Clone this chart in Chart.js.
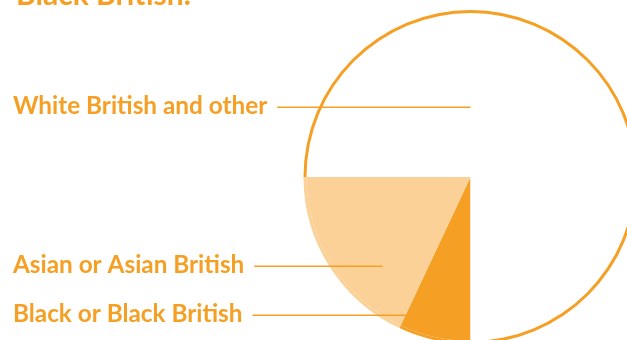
<!DOCTYPE html>
<html>
<head>
<meta charset="utf-8">
<script src="https://cdn.jsdelivr.net/npm/chart.js@4.4.1/dist/chart.umd.min.js"></script>
<style>
  html, body { margin: 0; padding: 0; overflow: hidden; background: #fff; }
  #wrap { position: relative; width: 700px; height: 400px; }
</style>
</head>
<body>
<div id="wrap"><canvas id="ethnicity-chart"></canvas></div>
<script>
// ---------------------- DATA -------------------------
const groups = ['Black or Black British', 'Asian or Asian British', 'White British and other'];
const shares = [7, 18, 75];
const headingText = 'Black British.';

// ---------------------- STYLE -------------------------
const ORANGE = '#f5a024';
const LIGHT = '#fbd198';
const sliceColors = [ORANGE, LIGHT, '#ffffff'];
const rimColors = [ORANGE, LIGHT, ORANGE];   // only the white slice shows an outline

// where each leader line stops: how far along the slice (0..1) and how deep (share of radius)
const anchors = [
      { along: 0.5, depth: 0.845 },
      { along: 0.30, depth: 0.75 },
      { along: 1 / 3, depth: 0.42 }
];

const LABEL_X = 13;
const LABEL_FONT = 'bold 24.3px Lato';

// draws the category names on the left with a horizontal line into each slice
const calloutLabels = {
      id: 'calloutLabels',
      afterDraw(chart) {
            const ctx = chart.ctx;
            const slices = chart.getDatasetMeta(1).data;
            const rim = chart.getDatasetMeta(0).data;

            ctx.save();
            ctx.fillStyle = ORANGE;
            ctx.strokeStyle = ORANGE;
            ctx.lineWidth = 1.5;
            ctx.font = LABEL_FONT;
            ctx.textBaseline = 'alphabetic';

            slices.forEach((arc, i) => {
                  const a = arc.startAngle + (arc.endAngle - arc.startAngle) * anchors[i].along;
                  const r = rim[i].outerRadius * anchors[i].depth;
                  const ax = arc.x + Math.cos(a) * r;
                  const ay = Math.round(arc.y + Math.sin(a) * r) + 0.25;
                  const tw = ctx.measureText(groups[i]).width;

                  ctx.fillText(groups[i], LABEL_X, ay + 7);
                  ctx.beginPath();
                  ctx.moveTo(LABEL_X + tw + 10, ay);
                  ctx.lineTo(ax, ay);
                  ctx.stroke();
            });

            // last line of the heading, mostly above the frame
            ctx.font = 'bold 30px Lato';
            ctx.fillText(headingText, 16, 5);
            ctx.restore();
      }
};

const ctx = document.getElementById('ethnicity-chart').getContext('2d');

const ethnicityChart = new Chart(ctx, {
      type: 'pie',
      data: {
            labels: groups,
            datasets: [
                  {
                        // thin outer ring that gives the white slice its edge
                        data: shares,
                        backgroundColor: rimColors,
                        borderWidth: 0,
                        weight: 3
                  },
                  {
                        data: shares,
                        backgroundColor: sliceColors,
                        borderWidth: 0,
                        weight: 164
                  }
            ]
      },
      options: {
            responsive: true,
            maintainAspectRatio: false,
            animation: false,
            events: [],
            rotation: 180,
            hoverOffset: 0,
            hoverBorderWidth: 0,
            layout: {
                  padding: { left: 303.5, top: 10, right: 62.5, bottom: 56 }
            },
            plugins: {
                  legend: { display: false },
                  tooltip: { enabled: false },
                  title: { display: false }
            }
      },
      plugins: [calloutLabels]
});
</script>
</body>
</html>
